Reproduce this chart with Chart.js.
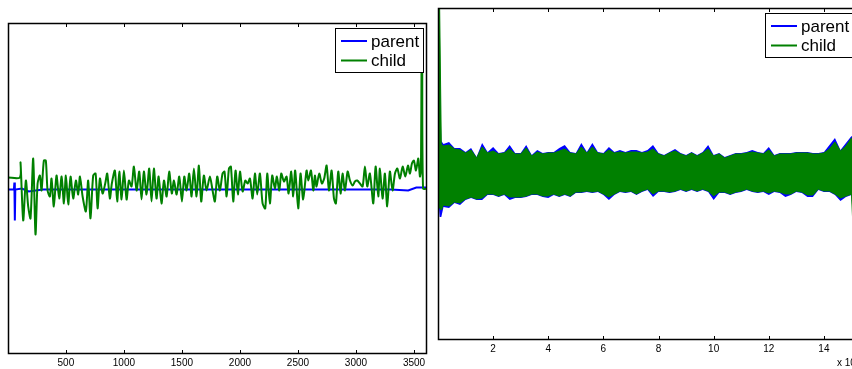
<!DOCTYPE html>
<html>
<head>
<meta charset="utf-8">
<script src="https://cdn.jsdelivr.net/npm/chart.js"></script>
<style>
  html, body { margin: 0; padding: 0; width: 852px; height: 369px; overflow: hidden; background: #fff; }
  .box { position: absolute; top: 0; }
</style>
</head>
<body>
<div class="box" style="left:0;width:432px;height:369px"><canvas id="chartLeft"></canvas></div>
<div class="box" style="left:432px;width:430px;height:369px"><canvas id="chartRight"></canvas></div>
<script>
const BLUE = '#0000ff';
const GREEN = '#008000';

// left panel: samples 1..~3600
const leftTicks = [500, 1000, 1500, 2000, 2500, 3000, 3500];
const parentX = [1, 52, 56, 60, 64, 120, 180, 300, 600, 1000, 1500, 2000, 2500, 3000, 3300, 3450, 3520, 3612];
const parentY = [-1, -1, 6, -32, -1, 0, -3, -1, -1, -1, -1, -1, -1, -1, -1, -2, 1, 1];

const childX = [1, 103, 109, 132, 155, 175, 195, 218, 238, 256, 276, 290, 310, 327, 342, 362, 376, 396, 419, 442,
  463, 483, 500, 520, 540, 563, 586, 606, 621, 644, 672, 692, 712, 735, 756, 773, 793, 816, 839, 856,
  879, 896, 922, 942, 960, 980, 1000, 1023, 1043, 1066, 1086, 1109, 1132, 1152, 1172, 1195, 1218, 1238, 1258, 1281,
  1299, 1324, 1345, 1368, 1390, 1413, 1431, 1454, 1477, 1500, 1520, 1540, 1563, 1583, 1603, 1626, 1646, 1666, 1689, 1712,
  1741, 1764, 1784, 1804, 1827, 1850, 1867, 1885, 1905, 1922, 1942, 1962, 1982, 2000, 2023, 2046, 2066, 2086, 2109, 2129,
  2149, 2172, 2195, 2218, 2235, 2258, 2278, 2301, 2318, 2339, 2356, 2379, 2402, 2419, 2442, 2459, 2476, 2502, 2522, 2545,
  2574, 2589, 2612, 2632, 2646, 2660, 2683, 2706, 2726, 2747, 2767, 2790, 2810, 2827, 2847, 2867, 2884, 2905, 2928, 2948,
  2971, 2991, 3011, 3034, 3057, 3077, 3097, 3120, 3149, 3169, 3192, 3206, 3229, 3249, 3269, 3292, 3315, 3336, 3356, 3379,
  3402, 3425, 3448, 3465, 3482, 3499, 3517, 3537, 3551, 3560, 3566, 3570, 3578, 3612];
const childY = [11, 11, 26, -32, 8, -18, -30, 30, -46, 5, 13, -2, 28, 28, -2, -8, 10, -18, 13, -10,
  12, -15, 13, -16, 12, -10, 8, -6, 12, -8, -23, 8, -30, 13, 15, -20, 10, -5, 5, 15,
  -10, 5, 18, -13, 17, -11, 18, -11, 8, 2, 22, -2, 17, -11, 17, -6, 20, -13, 20, -10,
  12, -15, 8, -8, 17, -5, 8, -6, 12, -13, 12, -2, 15, -8, 20, -8, 23, -13, 13, -2,
  12, -2, -13, 12, -2, 15, 17, -8, 20, 22, -13, 18, -6, 17, -3, 8, 5, 10, -10, 15,
  -6, 15, -15, -20, 15, -15, 13, 0, 12, -2, 15, 7, 12, -5, 17, -8, 18, -20, 15, -11,
  18, 8, 18, -2, 13, 2, 15, 5, 10, 23, -2, 18, -10, -15, 17, -5, 15, -2, 17, 8,
  3, 7, 8, 5, 2, 22, 2, 15, -15, 22, -8, 20, -10, 15, -18, 17, -2, 15, 20, 10,
  22, 12, 23, 15, 25, 28, 18, 30, 12, 18, 150, 150, 0, 0];

// right panel: envelope of the dense signal, x in units of 10^4 samples
const rightTicks = [2, 4, 6, 8, 10, 12, 14];
const envX = [0, 0.06, 0.12,
  0.2, 0.4, 0.6, 0.8, 1.0, 1.2, 1.4, 1.6, 1.8, 2.0,
  2.2, 2.4, 2.6, 2.8, 3.0, 3.2, 3.4, 3.6, 3.8, 4.0,
  4.2, 4.4, 4.6, 4.8, 5.0, 5.2, 5.4, 5.6, 5.8, 6.0,
  6.2, 6.4, 6.6, 6.8, 7.0, 7.2, 7.4, 7.6, 7.8, 8.0,
  8.2, 8.4, 8.6, 8.8, 9.0, 9.2, 9.4, 9.6, 9.8, 10.0,
  10.2, 10.4, 10.6, 10.8, 11.0, 11.2, 11.4, 11.6, 11.8, 12.0,
  12.2, 12.4, 12.6, 12.8, 13.0, 13.2, 13.4, 13.6, 13.8, 14.0,
  14.2, 14.4, 14.6, 14.8, 15.0,
  15.05, 15.2];
const parentTop = [117, 117, 33,
  30, 32, 26, 26, 22, 26, 17, 31, 22, 27,
  21, 22, 29, 21, 21, 29, 19, 24, 21, 22,
  22, 26, 29, 22, 21, 31, 22, 31, 22, 21,
  27, 22, 24, 22, 24, 24, 22, 24, 29, 21,
  19, 22, 25, 21, 19, 22, 19, 22, 29, 19,
  21, 17, 19, 21, 21, 22, 24, 22, 21, 27,
  19, 21, 21, 21, 22, 22, 22, 21, 21, 22,
  29, 36, 24, 31, 38,
  36, 30];
const parentBottom = [-20, -43, -43,
  -33, -34, -29, -31, -26, -24, -26, -26, -21, -21,
  -23, -21, -26, -24, -24, -23, -21, -21, -23, -24,
  -21, -23, -21, -23, -19, -19, -18, -19, -18, -21,
  -26, -21, -18, -19, -18, -21, -18, -16, -23, -18,
  -18, -19, -18, -16, -18, -16, -18, -16, -18, -26,
  -19, -19, -21, -19, -18, -16, -18, -19, -18, -21,
  -18, -19, -23, -21, -18, -19, -23, -23, -16, -18,
  -18, -21, -27, -23, -21,
  -45, -30];
const childTop = [166, 166, 30,
  28, 29, 25, 24, 21, 24, 16, 27, 21, 23,
  20, 21, 25, 20, 20, 26, 18, 22, 20, 21,
  21, 23, 25, 21, 20, 27, 21, 27, 21, 20,
  24, 21, 22, 21, 22, 22, 21, 22, 25, 20,
  18, 21, 23, 20, 18, 21, 18, 21, 25, 18,
  20, 16, 18, 20, 20, 21, 22, 21, 20, 24,
  18, 20, 20, 20, 21, 21, 21, 20, 20, 21,
  25, 32, 23, 28, 36,
  35, 29];
const childBottom = [-28, -34, -36,
  -31, -32, -28, -29, -25, -23, -25, -24, -20, -20,
  -22, -20, -23, -23, -23, -22, -20, -20, -22, -22,
  -20, -22, -20, -22, -18, -18, -17, -18, -17, -20,
  -23, -20, -17, -18, -17, -20, -17, -15, -20, -17,
  -17, -18, -17, -15, -17, -15, -17, -15, -17, -22,
  -18, -18, -20, -18, -17, -15, -17, -18, -17, -19,
  -17, -18, -20, -20, -17, -18, -21, -21, -15, -17,
  -17, -20, -24, -22, -20,
  -51, -30];

const legendLabels = ['parent', 'child'];
const legendColors = [BLUE, GREEN];

const FONT = '"Liberation Sans", Arial, Helvetica, sans-serif';

function toPoints(xs, ys) {
  return xs.map((x, i) => ({ x: x, y: ys[i] }));
}

// matlab style box, inward ticks, boxed legend, exponent label
const matlabAxes = {
  id: 'matlabAxes',
  afterDatasetsDraw(chart, args, opts) {
    const ctx = chart.ctx;
    const a = chart.chartArea;
    const x = chart.scales.x;
    ctx.save();
    ctx.strokeStyle = '#000';
    ctx.lineWidth = 1.5;
    ctx.strokeRect(Math.round(a.left) + 0.5, Math.round(a.top) + 0.5,
      Math.round(a.right - a.left) - 1, Math.round(a.bottom - a.top) - 1);
    ctx.lineWidth = 1;
    ctx.beginPath();
    x.ticks.forEach(t => {
      const px = Math.round(x.getPixelForValue(t.value)) + 0.5;
      ctx.moveTo(px, a.bottom); ctx.lineTo(px, a.bottom - 4);
      ctx.moveTo(px, a.top); ctx.lineTo(px, a.top + 4);
    });
    ctx.stroke();

    // legend
    const bw = 88, bh = 44;
    const bx = Math.round(a.right - opts.inset - bw);
    const by = Math.round(a.top + 5);
    ctx.fillStyle = '#fff';
    ctx.fillRect(bx, by, bw, bh);
    ctx.strokeStyle = '#000';
    ctx.strokeRect(bx + 0.5, by + 0.5, bw, bh);
    ctx.font = '17px ' + FONT;
    ctx.textBaseline = 'middle';
    legendLabels.forEach((txt, i) => {
      const y = by + 13 + i * 19.5;
      ctx.strokeStyle = legendColors[i];
      ctx.lineWidth = 2;
      ctx.beginPath();
      ctx.moveTo(bx + 6, y); ctx.lineTo(bx + 32, y);
      ctx.stroke();
      ctx.fillStyle = '#000';
      ctx.fillText(txt, bx + 36, y + 1);
    });

    if (opts.exponent) {
      ctx.fillStyle = '#000';
      ctx.font = '10px ' + FONT;
      ctx.textBaseline = 'middle';
      ctx.fillText('x 10', a.right - 20, a.bottom + 23);
      ctx.font = '7px ' + FONT;
      ctx.fillText(opts.exponent, a.right + 1, a.bottom + 19);
    }
    ctx.restore();
  }
};

function xScale(min, max, ticks, height) {
  return {
    type: 'linear',
    min: min,
    max: max,
    afterBuildTicks: s => { s.ticks = ticks.map(v => ({ value: v })); },
    afterFit: s => { s.height = height; },
    grid: { display: false, drawTicks: false },
    border: { display: false },
    ticks: {
      color: '#000', padding: 3, maxRotation: 0,
      font: { size: 10, family: FONT },
      callback: v => String(v)
    }
  };
}

const yScale = { type: 'linear', min: -166, max: 166, display: false };

new Chart(document.getElementById('chartLeft'), {
  type: 'line',
  data: {
    datasets: [
      { label: 'child', data: toPoints(childX, childY), borderColor: GREEN, borderWidth: 2, pointRadius: 0, tension: 0.25 },
      { label: 'parent', data: toPoints(parentX, parentY), borderColor: BLUE, borderWidth: 2, pointRadius: 0, tension: 0 }
    ]
  },
  options: {
    responsive: true,
    maintainAspectRatio: false,
    animation: false,
    layout: { padding: { left: 8, top: 23, right: 5, bottom: 0 } },
    scales: { x: xScale(1, 3612, leftTicks, 15), y: yScale },
    plugins: { legend: { display: false }, tooltip: { enabled: false }, matlabAxes: { inset: 4 } }
  },
  plugins: [matlabAxes]
});

new Chart(document.getElementById('chartRight'), {
  type: 'line',
  data: {
    datasets: [
      { label: 'child', data: toPoints(envX, childTop), borderColor: GREEN, backgroundColor: GREEN, borderWidth: 1, pointRadius: 0, fill: '+1' },
      { label: 'child', data: toPoints(envX, childBottom), borderColor: GREEN, borderWidth: 1, pointRadius: 0, fill: false },
      { label: 'parent', data: toPoints(envX, parentTop), borderColor: BLUE, backgroundColor: BLUE, borderWidth: 0, pointRadius: 0, fill: '+1' },
      { label: 'parent', data: toPoints(envX, parentBottom), borderColor: BLUE, borderWidth: 0, pointRadius: 0, fill: false }
    ]
  },
  options: {
    responsive: true,
    maintainAspectRatio: false,
    animation: false,
    layout: { padding: { left: 6, top: 8, right: 5, bottom: 0 } },
    scales: { x: xScale(0, 15.2, rightTicks, 29), y: yScale },
    plugins: { legend: { display: false }, tooltip: { enabled: false }, matlabAxes: { inset: 4, exponent: '4' } }
  },
  plugins: [matlabAxes]
});
</script>
</body>
</html>
